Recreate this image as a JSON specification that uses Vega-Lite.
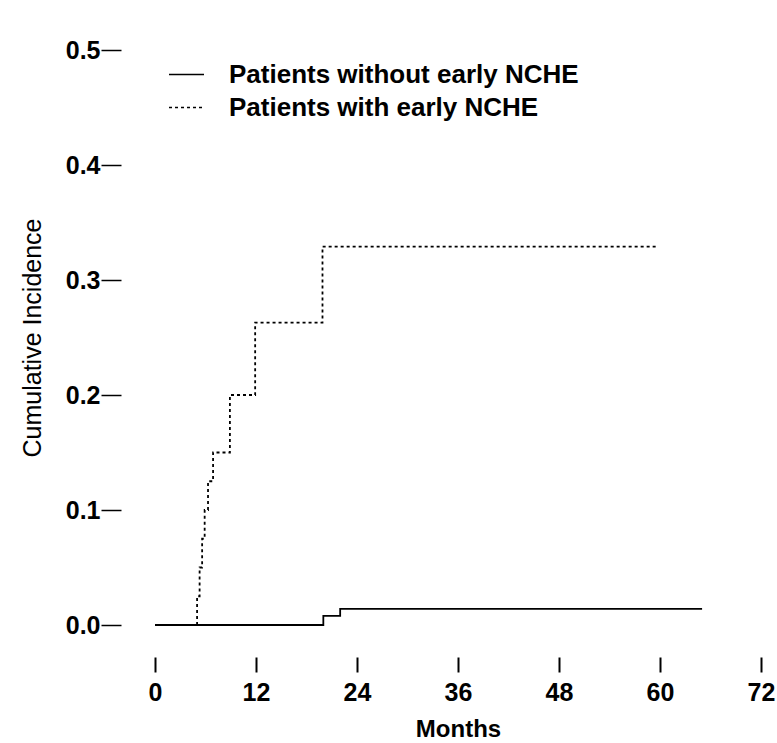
{
  "$schema": "https://vega.github.io/schema/vega-lite/v6.json",
  "width": 606,
  "height": 575,
  "autosize": {"type": "none"},
  "padding": {"left": 155, "top": 50, "right": 16, "bottom": 118},
  "background": "white",
  "config": {
    "view": {"stroke": null},
    "font": "Liberation Sans",
    "axis": {"grid": false, "domain": false, "labelColor": "black", "titleColor": "black", "tickColor": "black"}
  },
  "data": {
    "values": [
      {"group": "Patients without early NCHE", "month": 0, "ci": 0},
      {"group": "Patients without early NCHE", "month": 20, "ci": 0.008},
      {"group": "Patients without early NCHE", "month": 22, "ci": 0.014},
      {"group": "Patients without early NCHE", "month": 65, "ci": 0.014},
      {"group": "Patients with early NCHE", "month": 0, "ci": 0},
      {"group": "Patients with early NCHE", "month": 5.0, "ci": 0.025},
      {"group": "Patients with early NCHE", "month": 5.3, "ci": 0.05},
      {"group": "Patients with early NCHE", "month": 5.6, "ci": 0.075},
      {"group": "Patients with early NCHE", "month": 5.9, "ci": 0.1},
      {"group": "Patients with early NCHE", "month": 6.3, "ci": 0.125},
      {"group": "Patients with early NCHE", "month": 6.9, "ci": 0.15},
      {"group": "Patients with early NCHE", "month": 8.9, "ci": 0.2},
      {"group": "Patients with early NCHE", "month": 11.9, "ci": 0.263},
      {"group": "Patients with early NCHE", "month": 19.9, "ci": 0.329},
      {"group": "Patients with early NCHE", "month": 59.5, "ci": 0.329}
    ]
  },
  "mark": {"type": "line", "interpolate": "step-after", "color": "black", "strokeWidth": 1.8},
  "encoding": {
    "x": {
      "field": "month", "type": "quantitative",
      "scale": {"domain": [0, 72], "nice": false, "zero": false},
      "axis": {
        "values": [0, 12, 24, 36, 48, 60, 72], "title": "Months",
        "offset": 32, "tickSize": 15, "tickWidth": 2, "labelPadding": 8,
        "labelFontSize": 25, "labelFontWeight": "bold", "labelFlush": false,
        "titleFontSize": 24, "titleFontWeight": "bold", "titlePadding": 12
      }
    },
    "y": {
      "field": "ci", "type": "quantitative",
      "scale": {"domain": [0, 0.5], "nice": false},
      "axis": {
        "values": [0, 0.1, 0.2, 0.3, 0.4, 0.5], "format": ".1f", "title": "Cumulative Incidence",
        "offset": 34, "tickSize": 20, "tickWidth": 1.5, "labelPadding": 1,
        "labelFontSize": 25, "labelFontWeight": "bold", "labelFlush": false,
        "titleFontSize": 25, "titleFontWeight": "normal", "titlePadding": 20
      }
    },
    "strokeDash": {
      "field": "group", "type": "nominal",
      "scale": {"domain": ["Patients without early NCHE", "Patients with early NCHE"], "range": [[1, 0], [3, 3]]},
      "legend": {
        "title": null, "orient": "none", "legendX": 13, "legendY": 6,
        "symbolType": "stroke", "symbolSize": 1225, "symbolStrokeWidth": 1.5, "symbolStrokeColor": "black",
        "labelFontSize": 26, "labelFontWeight": "bold", "labelColor": "black", "labelOffset": 24,
        "rowPadding": 1, "padding": 0, "labelLimit": 600
      }
    }
  }
}
